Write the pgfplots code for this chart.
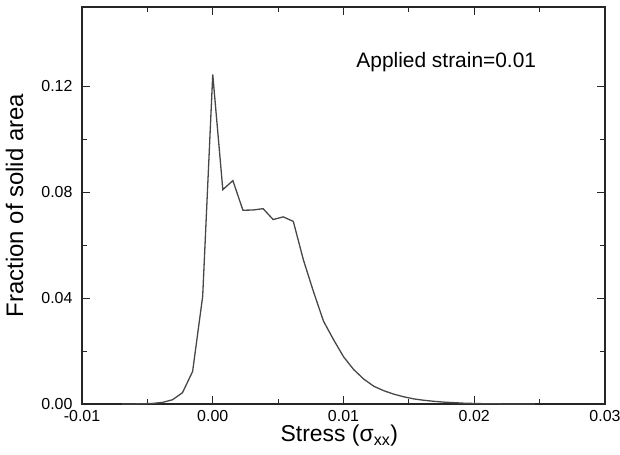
\documentclass[border=0pt]{standalone}
\usepackage{fontspec}
\setmainfont{Liberation Sans}
\usepackage{pgfplots}
\pgfplotsset{compat=1.18}

\begin{document}
\begin{tikzpicture}
\begin{axis}[
    scale only axis,
    width=523bp, height=397bp,
    xmin=-0.01, xmax=0.03, ymin=0, ymax=0.15,
    xtick={-0.01,0,0.01,0.02,0.03},
    ytick={0,0.04,0.08,0.12},
    minor x tick num=1, minor y tick num=1,
    scaled x ticks=false, scaled y ticks=false,
    tick align=inside,
    major tick length=8bp, minor tick length=5bp,
    axis line style={line width=1.1bp, black!85},
    every tick/.style={line width=0.9bp, black!85},
    xticklabel style={font=\fontsize{16}{18}\selectfont, yshift=-3bp,
        /pgf/number format/assume math mode=true,
        /pgf/number format/fixed, /pgf/number format/zerofill,
        /pgf/number format/precision=2},
    yticklabel style={font=\fontsize{16}{18}\selectfont, xshift=-6bp,
        /pgf/number format/assume math mode=true,
        /pgf/number format/fixed, /pgf/number format/zerofill,
        /pgf/number format/precision=2},
    xlabel={Stress (σ\textsubscript{xx})},
    ylabel={Fraction of solid area},
    xlabel style={font=\fontsize{23}{25}\selectfont,
        at={(axis description cs:0.492,-0.0957)}, anchor=base},
    ylabel style={font=\fontsize{24}{26}\selectfont,
        at={(axis description cs:-0.1126,0.5)}, anchor=base},
]
\addplot[black!72, line width=1.3bp] coordinates {
(-0.00693,0.0000) (-0.00616,0.0000) (-0.00539,0.0001) (-0.00462,0.0002)
(-0.00385,0.0006) (-0.00308,0.0016) (-0.00231,0.0043) (-0.00154,0.0123)
(-0.00077,0.0407) (0.00000,0.1245) (0.00077,0.0810) (0.00154,0.0844)
(0.00231,0.0732) (0.00308,0.0733) (0.00385,0.0738) (0.00462,0.0697)
(0.00539,0.0707) (0.00616,0.0690) (0.00693,0.0545) (0.00770,0.0425)
(0.00847,0.0313) (0.00924,0.0243) (0.01001,0.0178) (0.01078,0.0130)
(0.01155,0.0094) (0.01232,0.0067) (0.01309,0.0050) (0.01386,0.0037)
(0.01463,0.0027) (0.01540,0.0019) (0.01617,0.0014) (0.01694,0.0010)
(0.01771,0.0007) (0.01848,0.0005) (0.01925,0.0003) (0.02002,0.0002)
(0.02079,0.0001) (0.02156,0.0001) (0.02233,0.0000) (0.02310,0.0000)
(0.02387,0.0000) (0.02464,0.0000)
};
\node[font=\fontsize{21}{24}\selectfont, anchor=center]
    at (axis cs:0.01786,0.1291) {Applied strain=0.01};
\end{axis}
\pgfresetboundingbox
\path[use as bounding box] ([shift={(-82bp,-51bp)}]current axis.south west)
    rectangle ([shift={(15bp,7bp)}]current axis.north east);
\end{tikzpicture}
\end{document}
